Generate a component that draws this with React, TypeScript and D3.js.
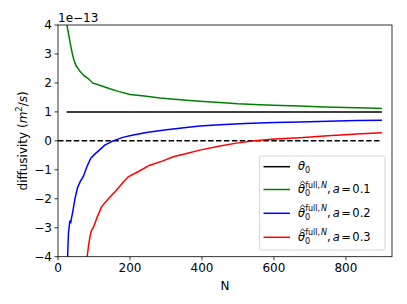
import * as d3 from "d3";

const width = 407;
const height = 304;
const margin = { top: 25, right: 15, bottom: 47.3, left: 58 };

// N values and estimates
const greenN = [24, 27, 30, 35, 40, 44, 50, 61, 72, 84, 96, 120, 144, 170, 200, 240, 283, 340, 394, 450, 500, 560, 620, 672, 740, 800, 860, 900];
const greenV = [4.05, 3.85, 3.65, 3.3, 3.0, 2.8, 2.6, 2.4, 2.25, 2.15, 2.0, 1.9, 1.8, 1.7, 1.6, 1.55, 1.48, 1.42, 1.37, 1.32, 1.28, 1.25, 1.22, 1.2, 1.17, 1.15, 1.13, 1.12];

const blueN = [24, 27, 29, 33, 35, 37, 41, 47, 54, 62, 70, 80, 91, 103, 115, 130, 153, 180, 209, 250, 302, 350, 394, 450, 520, 600, 672, 750, 830, 900];
const blueV = [-4.6, -3.9, -3.2, -2.75, -2.85, -2.7, -2.45, -2.0, -1.63, -1.4, -1.24, -0.9, -0.6, -0.45, -0.32, -0.15, 0.0, 0.12, 0.2, 0.3, 0.38, 0.45, 0.51, 0.56, 0.6, 0.63, 0.65, 0.68, 0.7, 0.71];

const redN = [78, 81, 85, 89, 93, 98, 110, 121, 140, 163, 180, 195, 225, 255, 290, 320, 360, 394, 450, 500, 547, 600, 672, 750, 830, 900];
const redV = [-4.5, -4.0, -3.6, -3.3, -3.1, -3.0, -2.6, -2.28, -2.0, -1.7, -1.45, -1.24, -1.05, -0.84, -0.7, -0.55, -0.43, -0.32, -0.18, -0.07, 0.0, 0.06, 0.11, 0.18, 0.24, 0.28];

const trueN = [24, 900];
const trueV = [1, 1];
const zeroN = [0, 900];
const zeroV = [0, 0];

const xTicks = [0, 200, 400, 600, 800];
const yTicks = [-4, -3, -2, -1, 0, 1, 2, 3, 4];
const aValues = ["0.1", "0.2", "0.3"];
const colors = ["green", "blue", "red"];

const font = "DejaVu Sans, sans-serif";

const x = d3.scaleLinear().domain([0, 928]).range([margin.left, width - margin.right]);
const y = d3.scaleLinear().domain([-4, 4]).range([height - margin.bottom, margin.top]);

const line = d3.line<[number, number]>().x(d => x(d[0])).y(d => y(d[1]));
const zip = (a: number[], b: number[]) => a.map((v, i) => [v, b[i]] as [number, number]);

const series = [
  { pts: zip(greenN, greenV), color: colors[0] },
  { pts: zip(blueN, blueV), color: colors[1] },
  { pts: zip(redN, redV), color: colors[2] },
];

const HatLabel = ({ tx, ty, a }: { tx: number; ty: number; a: string }) => (
  <g fontFamily={font} fontSize={11.5} fill="#000">
    <path d={`M${tx + 2.2},${ty - 9.5} L${tx + 4.6},${ty - 11.8} L${tx + 7},${ty - 9.5}`} fill="none" stroke="#000" strokeWidth={0.9} />
    <text x={tx} y={ty}>
      <tspan fontStyle="italic">θ</tspan>
      <tspan fontSize={8} dy={3}>0</tspan>
      <tspan fontSize={8} dx={-5} dy={-8.5}>full,</tspan>
      <tspan fontSize={8} fontStyle="italic" dx={1}>N</tspan>
      <tspan dy={5.5}>,</tspan>
      <tspan fontStyle="italic" dx={2}>a</tspan>
      <tspan dx={1.5}>=</tspan>
      <tspan dx={1.5}>{a}</tspan>
    </text>
  </g>
);

export default function App() {
  const x0 = x.range()[0];
  const x1 = x.range()[1];
  const y0 = y.range()[0];
  const y1 = y.range()[1];
  const legX = 259.5;
  const legY = 156;
  const rows = [166.7, 189.5, 213.3, 237.3];
  return (
    <svg width={width} height={height} style={{ position: "absolute", left: 0, top: 0 }} fontFamily={font}>
      <rect width={width} height={height} fill="#fff" />
      <defs>
        <clipPath id="plot">
          <rect x={x0} y={y1} width={x1 - x0} height={y0 - y1} />
        </clipPath>
      </defs>
      <g clipPath="url(#plot)" fill="none" strokeWidth={1.5}>
        <path d={line(zip(trueN, trueV)) || ""} stroke="#000" />
        <path d={line(zip(zeroN, zeroV)) || ""} stroke="#000" strokeDasharray="5.5,2.4" />
        {series.map(s => (
          <path key={s.color} d={line(s.pts) || ""} stroke={s.color} />
        ))}
      </g>
      <rect x={x0} y={y1} width={x1 - x0} height={y0 - y1} fill="none" stroke="#000" strokeWidth={0.8} />
      {xTicks.map(t => (
        <g key={"x" + t}>
          <line x1={x(t)} x2={x(t)} y1={y0} y2={y0 + 3.5} stroke="#000" strokeWidth={0.8} />
          <text x={x(t)} y={y0 + 15.5} textAnchor="middle" fontSize={12}>{t}</text>
        </g>
      ))}
      {yTicks.map(t => (
        <g key={"y" + t}>
          <line x1={x0 - 3.5} x2={x0} y1={y(t)} y2={y(t)} stroke="#000" strokeWidth={0.8} />
          <text x={x0 - 6} y={y(t) + 4.3} textAnchor="end" fontSize={12}>{t < 0 ? "−" + Math.abs(t) : t}</text>
        </g>
      ))}
      <text x={x0} y={22} fontSize={12}>1e−13</text>
      <text x={(x0 + x1) / 2} y={290} textAnchor="middle" fontSize={12}>N</text>
      <text transform={`translate(27,${(y0 + y1) / 2}) rotate(-90)`} textAnchor="middle" fontSize={12}>
        diffusivity (<tspan fontStyle="italic">m</tspan><tspan fontSize={8.5} dy={-5}>2</tspan><tspan dy={5}>/</tspan><tspan fontStyle="italic">s</tspan>)
      </text>
      <rect x={legX} y={legY} width={125.5} height={94} rx={2} fill="#fff" fillOpacity={0.8} stroke="#ccc" strokeWidth={0.8} />
      <line x1={263.5} x2={290} y1={rows[0]} y2={rows[0]} stroke="#000" strokeWidth={1.5} />
      <text x={298} y={rows[0] + 3.5} fontSize={11.5}>
        <tspan fontStyle="italic">θ</tspan>
        <tspan fontSize={8} dy={3}>0</tspan>
      </text>
      {aValues.map((a, i) => (
        <g key={a}>
          <line x1={263.5} x2={290} y1={rows[i + 1]} y2={rows[i + 1]} stroke={colors[i]} strokeWidth={1.5} />
          <HatLabel tx={298} ty={rows[i + 1] + 3.5} a={a} />
        </g>
      ))}
    </svg>
  );
}
